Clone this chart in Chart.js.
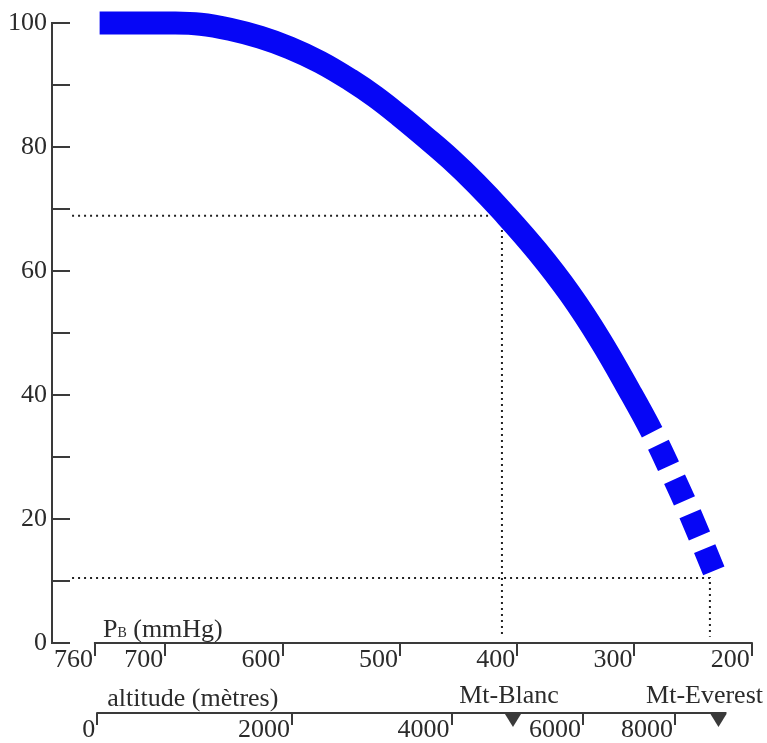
<!DOCTYPE html>
<html><head><meta charset="utf-8">
<script src="https://cdn.jsdelivr.net/npm/chart.js@4.4.1/dist/chart.umd.min.js"></script>
<style>html,body{margin:0;padding:0;background:#fff;}canvas{display:block;}</style>
</head><body>
<canvas id="c" width="767" height="743"></canvas>
<script>
// ---- data ----
const pbValues  = [756, 696, 670, 645, 619, 594, 568, 542, 521, 500, 479, 457, 435, 413, 383, 355, 329, 304, 285, 270, 253, 231];
const vo2Values = [100, 100, 99.8, 99.0, 97.7, 96.0, 93.7, 90.8, 88.1, 85.0, 81.7, 78.1, 74.1, 69.7, 63.2, 56.3, 48.8, 40.6, 34.0, 28.1, 21.0, 11.0];
const dashedFromIndex = 18;
const pbTicks = [760, 700, 600, 500, 400, 300, 200];
const yMin = 0, yMax = 100, yStep = 10, yLabelEvery = 20;
const altitudeLabels = ['0', '2000', '4000', '6000', '8000'];
const altitudePB = [758, 592, 456, 344, 265.5];
const peakNames = ['Mt-Blanc', 'Mt-Everest'];
const peakPB = [403.6, 228.4];
const guidePB = [413, 235.7];
const guideValues = [68.9, 10.5];
const guideStartPB = 779.5;
const guideEndValue = 1;
const pbRange = [193, 796.6];
const pbTitle = ['P', 'B', ' (mmHg)'];
const altitudeTitle = 'altitude (mètres)';

// ---- styles ----
const FONT = '"Liberation Serif", "Times New Roman", serif';
const textColor = '#2b2b2b';
const axisColor = '#3a3a3a';
const curveColor = 'rgb(6,6,246)';

const curveData = pbValues.map((x, i) => ({x, y: vo2Values[i]}));
const guideSets = guidePB.map((pb, i) => ({
  data: [{x: guideStartPB, y: guideValues[i]}, {x: pb, y: guideValues[i]}, {x: pb, y: guideEndValue}],
  borderColor: '#222', borderWidth: 2, borderDash: [2, 4], pointRadius: 0, tension: 0, fill: false
}));

const decor = {
  id: 'decor',
  afterDraw(chart) {
    const {ctx, chartArea, scales} = chart;
    const x = scales.x, y = scales.y, xa = scales.xAlt;
    ctx.save();
    ctx.strokeStyle = axisColor; ctx.fillStyle = axisColor; ctx.lineWidth = 2; ctx.lineCap = 'butt';
    y.ticks.forEach(t => {
      const py = Math.round(y.getPixelForValue(t.value));
      ctx.beginPath(); ctx.moveTo(chartArea.left, py); ctx.lineTo(chartArea.left + 18, py); ctx.stroke();
    });
    const pbY = Math.round(x.top);
    ctx.beginPath();
    ctx.moveTo(x.getPixelForValue(pbTicks[0]) - 1, pbY);
    ctx.lineTo(x.getPixelForValue(pbTicks[pbTicks.length - 1]) + 1, pbY);
    ctx.stroke();
    const altY = Math.round(xa.top);
    ctx.beginPath();
    ctx.moveTo(xa.getPixelForValue(altitudePB[0]) - 1, altY);
    ctx.lineTo(xa.getPixelForValue(peakPB[peakPB.length - 1]) + 8, altY);
    ctx.stroke();
    peakPB.forEach(v => {
      const px = xa.getPixelForValue(v);
      ctx.beginPath(); ctx.moveTo(px - 8, altY + 1); ctx.lineTo(px + 8, altY + 1); ctx.lineTo(px, altY + 14);
      ctx.closePath(); ctx.fill();
    });
    ctx.fillStyle = textColor; ctx.textBaseline = 'alphabetic';
    ctx.font = '26px ' + FONT; ctx.textAlign = 'left';
    let tx = x.getPixelForValue(pbTicks[0]) + 8;
    ctx.fillText(pbTitle[0], tx, pbY - 6); tx += ctx.measureText(pbTitle[0]).width;
    ctx.font = '14px ' + FONT;
    ctx.fillText(pbTitle[1], tx, pbY - 6); tx += ctx.measureText(pbTitle[1]).width;
    ctx.font = '26px ' + FONT;
    ctx.fillText(pbTitle[2], tx, pbY - 6);
    ctx.fillText(altitudeTitle, xa.getPixelForValue(altitudePB[0]) + 10, altY - 7);
    peakNames.forEach((n, i) => {
      const px = xa.getPixelForValue(peakPB[i]);
      const w = ctx.measureText(n).width;
      let left = px - 4 - w / 2;
      if (left + w > chart.width - 4) left = chart.width - 4 - w;
      ctx.fillText(n, left, altY - 10);
    });
    ctx.restore();
  }
};

new Chart(document.getElementById('c'), {
  type: 'line',
  data: {
    datasets: [{
      data: curveData, borderColor: curveColor, borderWidth: 23, pointRadius: 0,
      tension: 0.4, borderCapStyle: 'butt', borderJoinStyle: 'round',
      clip: false, fill: false,
      segment: {
        borderDash: c => c.p0DataIndex >= dashedFromIndex ? [24, 14] : undefined,
        borderDashOffset: c => c.p0DataIndex >= dashedFromIndex ? 24 : undefined
      }
    }, ...guideSets]
  },
  options: {
    responsive: false, animation: false,
    layout: {padding: {top: 23, right: 7, bottom: 0, left: 0}},
    plugins: {legend: {display: false}, tooltip: {enabled: false}},
    scales: {
      x: {
        type: 'linear', position: 'bottom', reverse: true, min: pbRange[0], max: pbRange[1], weight: 0,
        afterBuildTicks: s => { s.ticks = pbTicks.map(v => ({value: v})); },
        afterFit: s => { s.height = 70; },
        border: {display: false},
        grid: {drawOnChartArea: false, drawTicks: true, tickLength: 13, color: axisColor, lineWidth: 2},
        ticks: {autoSkip: false, maxRotation: 0, align: 'end', padding: -11, labelOffset: -2,
                color: textColor, font: {family: FONT, size: 26}, callback: v => String(v)}
      },
      xAlt: {
        type: 'linear', position: 'bottom', reverse: true, min: pbRange[0], max: pbRange[1], weight: 1,
        afterBuildTicks: s => { s.ticks = altitudePB.map(v => ({value: v})); },
        afterFit: s => { s.height = 30; },
        border: {display: false},
        grid: {drawOnChartArea: false, drawTicks: true, tickLength: 12, color: axisColor, lineWidth: 2},
        ticks: {autoSkip: false, maxRotation: 0, align: 'end', padding: -10, labelOffset: -2,
                color: textColor, font: {family: FONT, size: 26},
                callback: (v, i) => altitudeLabels[i]}
      },
      y: {
        type: 'linear', position: 'left', min: yMin, max: yMax,
        afterFit: s => { s.width = 52; },
        border: {display: true, color: axisColor, width: 2},
        grid: {drawOnChartArea: false, drawTicks: false},
        ticks: {stepSize: yStep, padding: 5, color: textColor, font: {family: FONT, size: 26},
                callback: v => (v % yLabelEvery === 0 ? String(v) : '')}
      }
    }
  },
  plugins: [decor]
});
</script>
</body></html>
